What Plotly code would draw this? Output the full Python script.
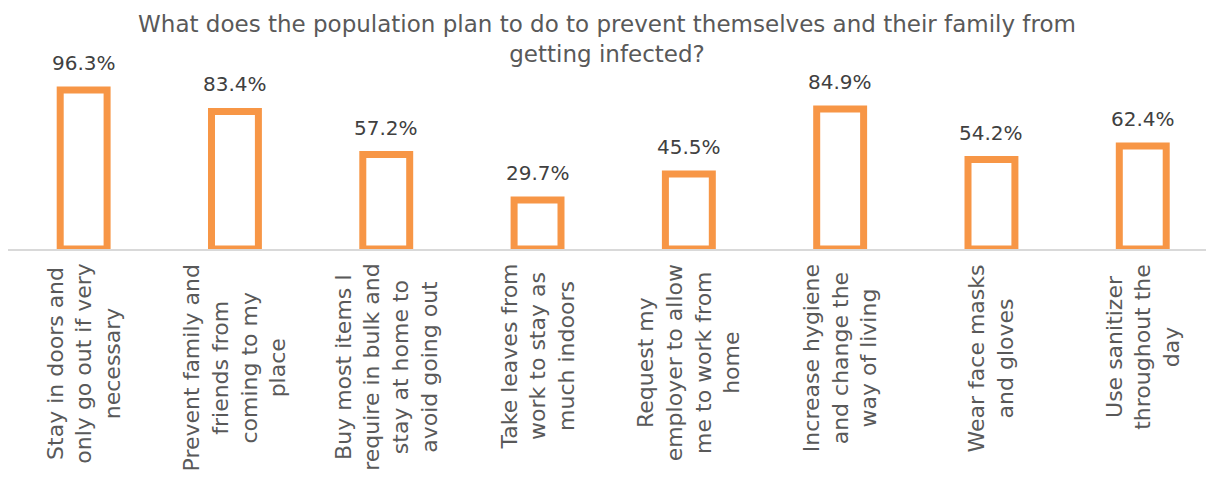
import plotly.graph_objects as go

categories = [
    "Stay in doors and<br>only go out if very<br>necessary",
    "Prevent family and<br>friends from<br>coming to my<br>place",
    "Buy most items I<br>require in bulk and<br>stay at home to<br>avoid going out",
    "Take leaves from<br>work to stay as<br>much indoors",
    "Request my<br>employer to allow<br>me to work from<br>home",
    "Increase hygiene<br>and change the<br>way of living",
    "Wear face masks<br>and gloves",
    "Use sanitizer<br>throughout the<br>day",
]
values = [96.3, 83.4, 57.2, 29.7, 45.5, 84.9, 54.2, 62.4]
title_text = ("What does the population plan to do to prevent themselves and their family from"
              "<br>getting infected?")

FONT = "DejaVu Sans"
ORANGE = "#F79646"
GRAY = "#595959"

xs = list(range(len(categories)))

fig = go.Figure()
fig.add_trace(go.Bar(
    x=xs, y=values,
    width=0.31,
    marker=dict(color="white", line=dict(color=ORANGE, width=7)),
    cliponaxis=False,
    hoverinfo="skip",
))

for i, v in zip(xs, values):
    fig.add_annotation(
        x=i, xref="x", y=v, yref="y",
        text=f"{v:.1f}%", showarrow=False,
        xanchor="center", yanchor="bottom", yshift=13,
        font=dict(family=FONT, size=20, color="#404040"),
    )

for i, c in enumerate(categories):
    fig.add_annotation(
        x=i, xref="x", y=0, yref="paper",
        text=c, textangle=-90, showarrow=False,
        xanchor="center", yanchor="top", yshift=-13, align="center",
        font=dict(family=FONT, size=22, color=GRAY),
    )

fig.update_layout(
    width=1206, height=479,
    margin=dict(l=8, r=0, t=84, b=230),
    paper_bgcolor="white", plot_bgcolor="white",
    showlegend=False,
    title=dict(text=title_text, x=0.5, xanchor="center", xref="paper",
               y=1 - 32 / 479, yanchor="middle", yref="container",
               font=dict(family=FONT, size=23, color=GRAY)),
    xaxis=dict(range=[-0.5, 7.418], showticklabels=False, showgrid=False,
               zeroline=False, showline=True, linecolor="#D9D9D9", linewidth=2,
               ticks="", layer="below traces", fixedrange=True),
    yaxis=dict(range=[0, 100], visible=False, showgrid=False, zeroline=False),
    bargap=0.6,
)

fig.write_html("out.html")
